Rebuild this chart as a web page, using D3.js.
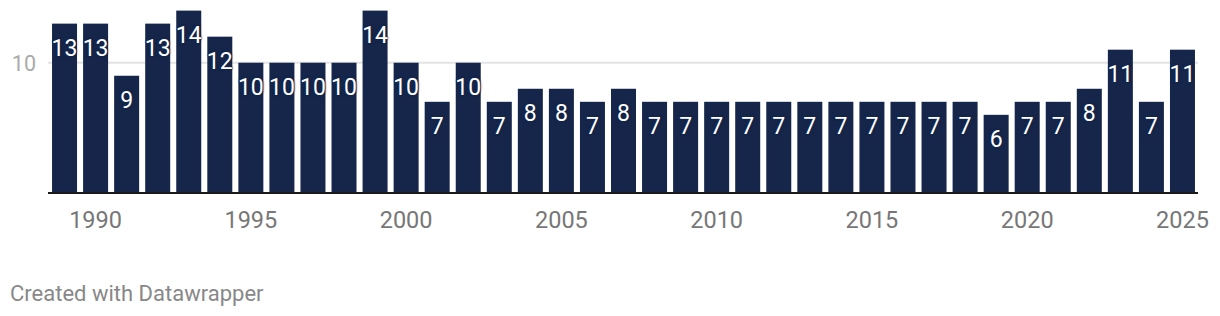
<!DOCTYPE html>
<html>
<head>
<meta charset="utf-8">
<script src="https://cdn.jsdelivr.net/npm/d3@7"></script>
<style>
  body { margin: 0; background: #fff; font-family: Roboto, "Noto Sans", sans-serif; }
  .value { fill: #fff; font-size: 23px; text-anchor: middle; text-shadow: 0 0 3px #15264a, 0 0 2px #15264a; }
  .footer { fill: #888; font-size: 22px; }
</style>
</head>
<body>
<svg id="chart" width="1220" height="316"></svg>
<script>
// jaren en aantallen
const years = d3.range(1989, 2026);
const values = [13, 13, 9, 13, 14, 12, 10, 10, 10, 10, 14, 10, 7, 10, 7, 8, 8, 7, 8, 7,
                7, 7, 7, 7, 7, 7, 7, 7, 7, 7, 6, 7, 7, 8, 11, 7, 11];
const xTicks = [1990, 1995, 2000, 2005, 2010, 2015, 2020, 2025];
const yTicks = [10];

const data = years.map((y, i) => ({ year: y, value: values[i] }));

const svg = d3.select("#chart");

const x = d3.scaleBand()
            .domain(years)
            .range([48, 1199])
            .paddingInner(0.195)
            .paddingOuter(0.13);

const y = d3.scaleLinear()
            .domain([0, 14])
            .range([193, 10.6]);

// grid
svg.append("g")
   .selectAll("line")
   .data(yTicks)
   .join("line")
   .attr("x1", 48)
   .attr("x2", 1198)
   .attr("y1", d => y(d))
   .attr("y2", d => y(d))
   .attr("stroke", "#e3e3e3")
   .attr("stroke-width", 2);

svg.append("g")
   .selectAll("text")
   .data(yTicks)
   .join("text")
   .attr("x", 36)
   .attr("y", d => y(d) + 8)
   .attr("text-anchor", "end")
   .attr("fill", "#aaa")
   .attr("font-size", 21.5)
   .text(d => d);

// bars
svg.append("g")
   .selectAll("rect")
   .data(data)
   .join("rect")
   .attr("x", d => x(d.year))
   .attr("y", d => y(d.value))
   .attr("width", x.bandwidth())
   .attr("height", d => y(0) - y(d.value))
   .attr("fill", "#15264a");

// baseline
svg.append("line")
   .attr("x1", 48)
   .attr("x2", 1198)
   .attr("y1", y(0))
   .attr("y2", y(0))
   .attr("stroke", "#1a1a1a")
   .attr("stroke-width", 2);

// value labels
svg.append("g")
   .selectAll("text")
   .data(data)
   .join("text")
   .attr("class", "value")
   .attr("x", d => x(d.year) + x.bandwidth() / 2)
   .attr("y", d => y(d.value) + 32)
   .text(d => d.value);

// x axis labels
svg.append("g")
   .selectAll("text")
   .data(xTicks)
   .join("text")
   .attr("x", d => x(d) + x.bandwidth() / 2)
   .attr("y", 228)
   .attr("text-anchor", "middle")
   .attr("fill", "#777")
   .attr("font-size", 23.5)
   .text(d => d);

svg.append("text")
   .attr("class", "footer")
   .attr("x", 10)
   .attr("y", 301)
   .text("Created with Datawrapper");
</script>
</body>
</html>
